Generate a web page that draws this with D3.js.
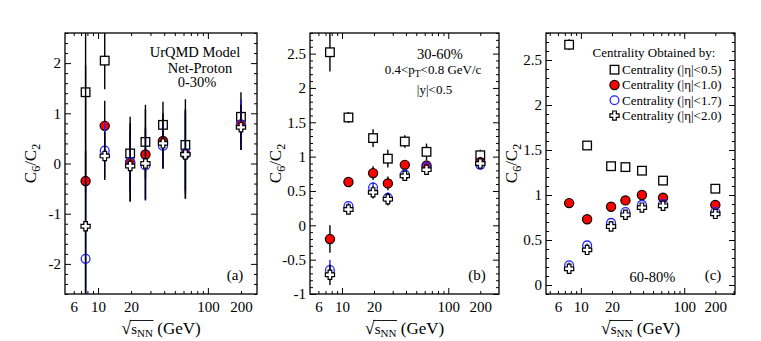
<!DOCTYPE html>
<html><head><meta charset="utf-8">
<script src="https://cdn.jsdelivr.net/npm/d3@7"></script>
<style>
body{margin:0;background:#fff}
text{font-family:"Liberation Serif","Times New Roman",serif;fill:#000}
</style>
</head><body>
<svg id="chart" width="761" height="341"></svg>
<script>
// ---------------- DATA ----------------
const energies = [7.7, 11.5, 19.6, 27, 39, 62.4, 200];
const seriesLabels = ["Centrality (|η|<0.5)", "Centrality (|η|<1.0)", "Centrality (|η|<1.7)", "Centrality (|η|<2.0)"];

// panel (a) 0-30%
const a_eta05 = [1.42, 2.05, 0.20, 0.43, 0.77, 0.37, 0.93];
const a_eta05_err = [2.0, 0.57, 0.73, 0.74, 0.46, 0.91, 0.49];
const a_eta10 = [-0.35, 0.75, 0.02, 0.18, 0.45, 0.19, 0.77];
const a_eta10_err = [2.3, 0.5, 0.78, 0.9, 0.55, 0.89, 0.5];
const a_eta17 = [-1.90, 0.26, 0.03, -0.04, 0.35, 0.20, 0.78];
const a_eta17_err = [1.6, 0.55, 0.6, 0.7, 0.45, 0.8, 0.5];
const a_eta20 = [-1.25, 0.15, -0.05, 0.00, 0.40, 0.18, 0.72];
const a_eta20_err = [1.5, 0.48, 0.7, 0.72, 0.5, 0.88, 0.45];

// panel (b) 30-60%
const b_eta05 = [2.52, 1.57, 1.27, 0.97, 1.22, 1.07, 1.02];
const b_eta05_err = [0.28, 0.08, 0.13, 0.13, 0.09, 0.12, 0.08];
const b_eta10 = [-0.20, 0.63, 0.76, 0.61, 0.88, 0.87, 0.92];
const b_eta10_err = [0.20, 0.07, 0.10, 0.10, 0.06, 0.06, 0.06];
const b_eta17 = [-0.65, 0.28, 0.55, 0.40, 0.74, 0.85, 0.88];
const b_eta17_err = [0.15, 0.05, 0.08, 0.08, 0.06, 0.05, 0.05];
const b_eta20 = [-0.72, 0.23, 0.48, 0.38, 0.72, 0.81, 0.90];
const b_eta20_err = [0.15, 0.06, 0.09, 0.09, 0.06, 0.06, 0.05];

// panel (c) 60-80%
const c_eta05 = [2.67, 1.55, 1.32, 1.31, 1.27, 1.16, 1.07];
const c_eta05_err = [0.06, 0.02, 0.02, 0.02, 0.02, 0.02, 0.02];
const c_eta10 = [0.91, 0.73, 0.87, 0.94, 1.00, 0.97, 0.89];
const c_eta10_err = [0.05, 0.02, 0.02, 0.02, 0.02, 0.02, 0.02];
const c_eta17 = [0.22, 0.44, 0.69, 0.81, 0.89, 0.90, 0.81];
const c_eta17_err = [0.03, 0.02, 0.02, 0.02, 0.02, 0.02, 0.02];
const c_eta20 = [0.18, 0.39, 0.65, 0.78, 0.86, 0.88, 0.79];
const c_eta20_err = [0.03, 0.02, 0.02, 0.02, 0.02, 0.02, 0.02];

// ticks
const xTickLabels = [6, 10, 20, 100, 200];
const xMajorTicks = [10, 100];
const xMinorTicks = [5, 6, 7, 8, 9, 20, 30, 40, 50, 60, 70, 80, 90, 200, 300];
const aYTicks = [-2, -1, 0, 1, 2];
const bYTicks = [-1, -0.5, 0, 0.5, 1, 1.5, 2, 2.5];
const cYTicks = [0, 0.5, 1, 1.5, 2, 2.5];

// ---------------- LAYOUT ----------------
const svg = d3.select("#chart");
const symbols = ["square", "red", "blue", "cross"];

const panels = [
  {x0: 65, x1: 257, y0: 33, y1: 294, xDom: [5, 280], yDom: [-2.6, 2.6], yTicks: aYTicks, yMinorStep: 0.2,
   series: [[a_eta05, a_eta05_err], [a_eta10, a_eta10_err], [a_eta17, a_eta17_err], [a_eta20, a_eta20_err]], tag: "(a)"},
  {x0: 310, x1: 499, y0: 33, y1: 294, xDom: [5, 300], yDom: [-1, 2.8], yTicks: bYTicks, yMinorStep: 0.1,
   series: [[b_eta05, b_eta05_err], [b_eta10, b_eta10_err], [b_eta17, b_eta17_err], [b_eta20, b_eta20_err]], tag: "(b)"},
  {x0: 546, x1: 735, y0: 33, y1: 294, xDom: [4.6, 310], yDom: [-0.1, 2.8], yTicks: cYTicks, yMinorStep: 0.1,
   series: [[c_eta05, c_eta05_err], [c_eta10, c_eta10_err], [c_eta17, c_eta17_err], [c_eta20, c_eta20_err]], tag: "(c)"}
];

function crossPath(w, L) {
  return `M${-w},${-L}H${w}V${-w}H${L}V${w}H${w}V${L}H${-w}V${w}H${-L}V${-w}H${-w}Z`;
}

function drawMarker(g, type, x, y) {
  if (type === "square") {
    g.append("rect").attr("x", x - 4.3).attr("y", y - 4.3).attr("width", 8.6).attr("height", 8.6)
      .attr("fill", "#fff").attr("stroke", "#000").attr("stroke-width", 1.3);
  } else if (type === "red") {
    g.append("circle").attr("cx", x).attr("cy", y).attr("r", 4.6)
      .attr("fill", "#f00").attr("stroke", "#000").attr("stroke-width", 1.2);
  } else if (type === "blue") {
    g.append("circle").attr("cx", x).attr("cy", y).attr("r", 4.4)
      .attr("fill", "none").attr("stroke", "#2424ff").attr("stroke-width", 1.3);
  } else {
    g.append("path").attr("d", crossPath(1.8, 4.6)).attr("transform", `translate(${x},${y})`)
      .attr("fill", "#fff").attr("stroke", "#000").attr("stroke-width", 1.2);
  }
}

panels.forEach((p, pi) => {
  const x = d3.scaleLog().domain(p.xDom).range([p.x0, p.x1]);
  const y = d3.scaleLinear().domain(p.yDom).range([p.y1, p.y0]);
  const g = svg.append("g");

  const cid = "clip" + pi;
  svg.append("clipPath").attr("id", cid).append("rect")
    .attr("x", p.x0).attr("y", p.y0).attr("width", p.x1 - p.x0).attr("height", p.y1 - p.y0);

  const inX = v => v > p.xDom[0] * 1.001 && v < p.xDom[1] * 0.999;
  const minorX = xMinorTicks.filter(inX);
  const yMinor = d3.range(Math.ceil(p.yDom[0] / p.yMinorStep) * p.yMinorStep, p.yDom[1] + 1e-9, p.yMinorStep)
    .map(v => +v.toFixed(3)).filter(v => !p.yTicks.some(t => Math.abs(t - v) < 1e-6));

  const styleAxis = sel => {
    sel.attr("font-family", null);
    sel.select(".domain").remove();
    sel.selectAll("line").attr("stroke", "#000").attr("stroke-width", 1);
    sel.selectAll("text").style("font-family", '"Liberation Serif","Times New Roman",serif').style("font-size", "15px").attr("fill", "#000");
  };
  g.append("g").attr("transform", `translate(0,${p.y1})`)
    .call(d3.axisBottom(x).tickValues(xTickLabels).tickSize(0).tickPadding(7).tickFormat(d3.format("d"))).call(styleAxis);
  g.append("g").attr("transform", `translate(0,${p.y1})`)
    .call(d3.axisBottom(x).tickValues(xMajorTicks).tickSize(-6).tickFormat("")).call(styleAxis);
  g.append("g").attr("transform", `translate(0,${p.y1})`)
    .call(d3.axisBottom(x).tickValues(minorX).tickSize(-3).tickFormat("")).call(styleAxis);
  g.append("g").attr("transform", `translate(0,${p.y0})`)
    .call(d3.axisTop(x).tickValues(xMajorTicks).tickSize(-6).tickFormat("")).call(styleAxis);
  g.append("g").attr("transform", `translate(0,${p.y0})`)
    .call(d3.axisTop(x).tickValues(minorX).tickSize(-3).tickFormat("")).call(styleAxis);
  g.append("g").attr("transform", `translate(${p.x0},0)`)
    .call(d3.axisLeft(y).tickValues(p.yTicks).tickSizeInner(-6).tickSizeOuter(0).tickPadding(4).tickFormat(d => String(d))).call(styleAxis);
  g.append("g").attr("transform", `translate(${p.x0},0)`)
    .call(d3.axisLeft(y).tickValues(yMinor).tickSize(-3).tickFormat("")).call(styleAxis);
  g.append("g").attr("transform", `translate(${p.x1},0)`)
    .call(d3.axisRight(y).tickValues(p.yTicks).tickSize(-6).tickFormat("")).call(styleAxis);
  g.append("g").attr("transform", `translate(${p.x1},0)`)
    .call(d3.axisRight(y).tickValues(yMinor).tickSize(-3).tickFormat("")).call(styleAxis);
  g.append("rect").attr("x", p.x0).attr("y", p.y0).attr("width", p.x1 - p.x0).attr("height", p.y1 - p.y0)
    .attr("fill", "none").attr("stroke", "#000").attr("stroke-width", 1.3);

  const dg = g.append("g");
  p.series.forEach((s, si) => {
    const [vals, errs] = s;
    const col = symbols[si] === "blue" ? "#2424ff" : "#000";
    const sg = dg.append("g");
    sg.append("g").attr("clip-path", `url(#${cid})`).selectAll("line").data(energies).join("line")
      .attr("x1", d => x(d)).attr("x2", d => x(d))
      .attr("y1", (d, i) => y(vals[i] - errs[i])).attr("y2", (d, i) => y(vals[i] + errs[i]))
      .attr("stroke", col).attr("stroke-width", 1.4);
    const mg = sg.append("g").attr("clip-path", `url(#${cid})`);
    energies.forEach((e, i) => drawMarker(mg, symbols[si], x(e), y(vals[i])));
  });

  // y label
  const cx = p.x0 - 29, cy = (p.y0 + p.y1) / 2;
  const yl = g.append("text").attr("transform", `translate(${cx},${cy}) rotate(-90)`)
    .attr("text-anchor", "middle").style("font-size", "17px");
  yl.append("tspan").text("C");
  yl.append("tspan").attr("font-size", "12px").attr("dy", 4).text("6");
  yl.append("tspan").attr("dy", -4).text("/C");
  yl.append("tspan").attr("font-size", "12px").attr("dy", 4).text("2");

  // x label
  const xc = (p.x0 + p.x1) / 2;
  const xl = g.append("text").attr("x", xc).attr("y", 333.5).attr("text-anchor", "middle").style("font-size", "17px");
  xl.append("tspan").attr("font-size", "18px").text("√");
  xl.append("tspan").attr("font-size", "15px").text("s");
  xl.append("tspan").attr("font-size", "11px").attr("dy", 3).text("NN");
  xl.append("tspan").attr("dy", -3).text(" (GeV)");
  const n0 = xl.node();
  try {
    const r0 = n0.getExtentOfChar(0), r3 = n0.getExtentOfChar(3);
    const ytop = r0.y + 3;
    g.append("line").attr("x1", r0.x + r0.width - 1.5).attr("x2", r3.x + r3.width + 0.5)
      .attr("y1", ytop).attr("y2", ytop).attr("stroke", "#000").attr("stroke-width", 0.9);
  } catch (e) {}

  g.append("text").attr("x", p.x1 - 22).attr("y", 280).attr("text-anchor", "middle").style("font-size", "15px").text(p.tag);
});

// ---------------- ANNOTATIONS ----------------
function label(x, y, txt, size) {
  return svg.append("text").attr("x", x).attr("y", y).attr("text-anchor", "middle").style("font-size", size + "px").text(txt);
}
label(195, 57, "UrQMD Model", 14.5);
label(200, 72.5, "Net-Proton", 14.5);
label(197, 87, "0-30%", 14.5);

label(440, 59, "30-60%", 14.5);
const pt = svg.append("text").attr("x", 433).attr("y", 74).attr("text-anchor", "middle").style("font-size", "13px");
pt.append("tspan").text("0.4<p");
pt.append("tspan").attr("font-size", "9.5px").attr("dy", 3).text("T");
pt.append("tspan").attr("dy", -3).text("<0.8 GeV/c");
label(434.5, 93.5, "|y|<0.5", 13);

label(652.5, 282, "60-80%", 14.5);

label(654, 57, "Centrality Obtained by:", 13);
const legY = [74, 89.3, 104.6, 119.9];
const lg = svg.append("g");
seriesLabels.forEach((s, i) => {
  drawMarker(lg, symbols[i], 614.5, legY[i] - 4.3);
  lg.append("text").attr("x", 622).attr("y", legY[i]).style("font-size", "13px").text(s);
});
</script>
</body></html>
